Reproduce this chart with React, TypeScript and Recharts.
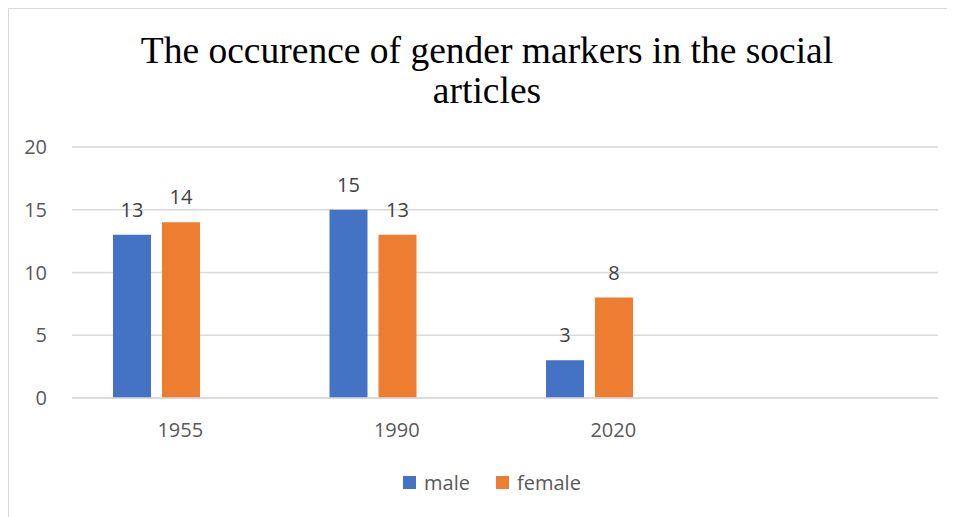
import { BarChart, Bar, XAxis, YAxis, CartesianGrid, Legend, LabelList } from "recharts";

const years = ["1955", "1990", "2020", ""];
const male = [13, 15, 3, null];
const female = [14, 13, 8, null];
const yTicks = [0, 5, 10, 15, 20];

const data = years.map((year, i) => ({
  year,
  male: male[i],
  female: female[i],
  blank: null,
}));

const font = "Open Sans, sans-serif";
const labelStyle = { fill: "#404040", fontSize: 20, fontFamily: font };
const order: Record<string, number> = { male: 0, female: 1 };

function LegendContent(props: any) {
  const items = (props.payload || [])
    .filter((p: any) => p.type !== "none")
    .sort((a: any, b: any) => (order[a.value] ?? 9) - (order[b.value] ?? 9));
  return (
    <div style={{ display: "flex", justifyContent: "center", gap: 26, fontFamily: font, fontSize: 20, color: "#595959" }}>
      {items.map((it: any) => (
        <div key={it.value} style={{ display: "flex", alignItems: "center", gap: 8 }}>
          <span style={{ display: "inline-block", width: 13, height: 13, background: it.color }} />
          <span>{it.value}</span>
        </div>
      ))}
    </div>
  );
}

export default function App() {
  return (
    <div style={{ position: "relative", marginLeft: -8, marginTop: -8, width: 955, height: 517, background: "#fff" }}>
      <div
        style={{
          position: "absolute",
          left: 7,
          top: 7,
          width: 960,
          height: 520,
          borderLeft: "2px solid #d9d9d9",
          borderTop: "2px solid #d9d9d9",
        }}
      />
      <div
        style={{
          position: "absolute",
          left: 87,
          width: 800,
          top: 31,
          textAlign: "center",
          fontFamily: "'Liberation Serif', 'Times New Roman', serif",
          fontSize: 37.5,
          lineHeight: "40px",
          color: "#000",
        }}
      >
        The occurence of gender markers in the social
        <br />
        articles
      </div>
      <div style={{ position: "absolute", left: 0, top: 0 }}>
        <BarChart
          width={955}
          height={517}
          data={data}
          margin={{ top: 147, right: 17, left: 0, bottom: 52 }}
          barCategoryGap={41}
          barGap={11}
        >
          <CartesianGrid vertical={false} stroke="#d9d9d9" strokeWidth={1.5} />
          <YAxis
            width={72}
            domain={[0, 20]}
            ticks={yTicks}
            axisLine={false}
            tickLine={false}
            tickSize={0}
            tickMargin={25}
            tick={{ fill: "#595959", fontSize: 20, fontFamily: font }}
          />
          <XAxis
            dataKey="year"
            height={40}
            axisLine={{ stroke: "#d9d9d9", strokeWidth: 1.5 }}
            tickLine={false}
            tickMargin={19}
            tick={{ fill: "#595959", fontSize: 20, fontFamily: font }}
          />
          <Legend
            verticalAlign="bottom"
            content={LegendContent}
            wrapperStyle={{ top: 469, left: 0, width: 984 }}
          />
          <Bar dataKey="male" name="male" fill="#4472c4" isAnimationActive={false}>
            <LabelList dataKey="male" position="top" offset={18} style={labelStyle} />
          </Bar>
          <Bar dataKey="female" name="female" fill="#ed7d31" isAnimationActive={false}>
            <LabelList dataKey="female" position="top" offset={18} style={labelStyle} />
          </Bar>
          <Bar dataKey="blank" legendType="none" fill="#a5a5a5" isAnimationActive={false} />
        </BarChart>
      </div>
    </div>
  );
}
